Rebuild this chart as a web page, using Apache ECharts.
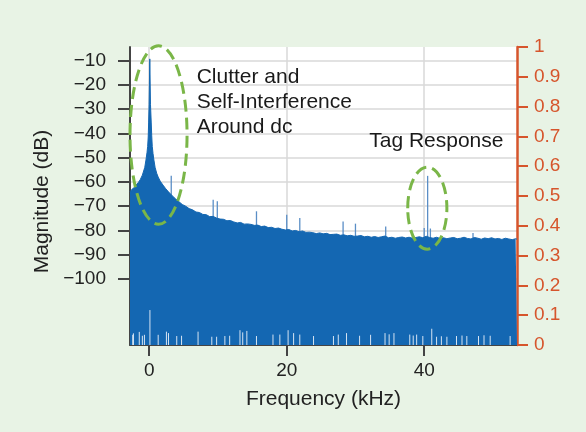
<!DOCTYPE html>
<html>
<head>
<meta charset="utf-8">
<script src="https://cdn.jsdelivr.net/npm/echarts@6/dist/echarts.min.js"></script>
<style>
  html, body { margin: 0; padding: 0; background: #e8f3e5; }
  #chart { width: 586px; height: 432px; }
</style>
</head>
<body>
<div id="chart"></div>
<script>
// Upper envelope of the measured spectrum (kHz, dB)
const envelopeFreqs = [
  -2.8, -2.5, -2.2, -1.9, -1.6, -1.3, -1.0, -0.87, -0.65, -0.48, -0.33, -0.23, -0.15, -0.09, -0.02,
  0.08, 0.18, 0.29, 0.36, 0.44, 0.55, 0.68, 0.85, 1.08, 1.3, 1.6, 2.0, 2.4, 2.8, 3.3, 3.8,
  4.3, 4.8, 5.3, 5.8, 6.3, 6.8, 7.3, 7.8, 8.3, 8.8, 9.3, 9.8, 10.3, 10.8, 11.3, 11.8,
  12.3, 12.8, 13.3, 13.8, 14.3, 14.8, 15.3, 15.8, 16.3, 16.8, 17.3, 17.8, 18.3, 18.8,
  19.3, 19.8, 20.3, 20.8, 21.3, 21.8, 22.3, 22.8, 23.3, 23.8, 24.3, 24.8, 25.3, 25.8,
  26.3, 26.8, 27.3, 27.8, 28.3, 28.8, 29.3, 29.8, 30.3, 30.8, 31.3, 31.8, 32.3, 32.8,
  33.3, 33.8, 34.3, 34.8, 35.3, 35.8, 36.3, 36.8, 37.3, 37.8, 38.3, 38.8, 39.3, 39.8,
  40.3, 40.8, 41.3, 41.8, 42.3, 42.8, 43.3, 43.8, 44.3, 44.8, 45.3, 45.8, 46.3, 46.8,
  47.3, 47.8, 48.3, 48.8, 49.3, 49.8, 50.3, 50.8, 51.3, 51.8, 52.3, 52.8, 53.3, 53.5
];
const envelopeLevels = [
  -64.0, -63.0, -62.4, -61.2, -60.3, -59.0, -57.2, -56.4, -54.0, -51.0, -48.0, -45.4, -41.5, -35.7, -28.0,
  -9.3, -28.0, -35.7, -41.0, -45.4, -48.3, -51.0, -54.0, -56.4, -58.0, -59.7, -61.3, -62.8, -64.1, -65.6, -66.9,
  -68.1, -69.3, -70.0, -71.0, -71.5, -72.4, -72.6, -73.4, -73.5, -74.3, -74.2, -74.9, -75.3, -75.4, -76.0, -75.9,
  -76.5, -76.9, -76.7, -77.4, -77.3, -77.5, -77.9, -77.8, -78.4, -78.2, -78.8, -78.7, -79.2, -79.0,
  -79.5, -79.8, -79.6, -80.2, -80.0, -80.5, -80.2, -80.8, -80.7, -80.9, -81.3, -81.0, -81.4, -81.2,
  -81.7, -81.6, -81.5, -82.0, -81.8, -82.2, -82.0, -82.4, -82.3, -82.1, -82.6, -82.4, -82.8, -82.5,
  -82.9, -82.6, -82.3, -83.0, -82.8, -83.2, -82.9, -82.7, -83.1, -82.8, -83.2, -82.9, -82.6, -83.0,
  -82.4, -82.9, -83.2, -82.8, -83.3, -83.0, -83.4, -83.1, -82.9, -83.4, -83.2, -82.8, -83.3, -83.5,
  -82.9, -83.2, -83.6, -83.1, -83.4, -83.0, -83.5, -83.3, -83.7, -83.2, -83.5, -83.8, -83.4, -83.6
];

// Narrow tones rising above the noise floor (kHz, dB)
const toneFreqs = [3.2, 9.3, 9.9, 15.6, 20.0, 21.9, 28.2, 30.0, 34.4, 40.0, 40.5, 40.9, 47.1];
const toneLevels = [-57.5, -67.3, -68.0, -72.1, -73.5, -74.9, -76.3, -77.2, -78.4, -79.0, -57.5, -79.2, -81.0];

// Deep notches reaching the bottom of the display (kHz, dB)
const dipFreqs = [
  -2.4, -2.3, -1.45, -1.0, -0.7, 0.1, 1.3, 2.5, 2.8, 4.0, 4.7, 7.1, 9.1, 9.8, 11.0, 11.7,
  13.2, 13.6, 14.2, 15.6, 18.0, 19.0, 20.2, 21.0, 21.9, 23.9, 26.8, 27.5, 28.7, 30.6, 32.2,
  34.3, 34.9, 35.6, 37.9, 38.4, 38.9, 39.8, 41.1, 41.8, 42.5, 43.3, 44.7, 45.5, 46.2, 47.9,
  48.7, 49.6, 52.5
];
const dipLevels = [
  -123.0, -122.4, -121.8, -123.4, -123.0, -112.8, -123.0, -121.7, -122.3, -123.5, -123.4, -121.7, -123.8, -123.8, -123.5, -123.4,
  -121.1, -122.0, -121.4, -123.5, -122.9, -122.9, -121.1, -122.3, -122.9, -123.5, -123.5, -122.9, -122.3, -123.4, -123.0,
  -122.3, -122.8, -122.3, -122.9, -123.3, -122.9, -123.5, -120.5, -123.8, -123.6, -123.8, -123.5, -123.3, -123.5, -123.5,
  -123.2, -123.4, -123.5
];

// Tick labels
const magTicks = [-100, -90, -80, -70, -60, -50, -40, -30, -20, -10];
const freqTicks = [0, 20, 40];

const FREQ_MIN = -2.8, FREQ_MAX = 53.5;
const MAG_MIN = -127.2, MAG_MAX = -4.4;

const BLUE = '#1467b2';
const INK = '#222222';
const ORANGE = '#d6552c';
const FONT = "'Liberation Sans', Arial, sans-serif";

function zip(xs, ys) { return xs.map((x, i) => [x, ys[i]]); }

// Vertical stems from the bottom of the plot up to each value
function stems(color, width) {
  return function (params, api) {
    const f = api.value(0);
    const base = api.coord([f, MAG_MIN]);
    const tip = api.coord([f, api.value(1)]);
    return {
      type: 'line',
      shape: { x1: base[0], y1: base[1], x2: tip[0], y2: tip[1] },
      style: { stroke: color, lineWidth: width }
    };
  };
}

const chart = echarts.init(document.getElementById('chart'), null, { renderer: 'canvas' });

chart.setOption({
  animation: false,
  backgroundColor: '#e8f3e5',
  textStyle: { fontFamily: FONT },
  grid: {
    left: 130, right: 69, top: 47, bottom: 87,
    show: true, backgroundColor: '#ffffff', borderWidth: 0
  },
  xAxis: {
    type: 'value',
    min: FREQ_MIN, max: FREQ_MAX,
    name: 'Frequency (kHz)',
    nameLocation: 'middle',
    nameGap: 44,
    nameTextStyle: { fontSize: 21, color: INK, fontFamily: FONT },
    axisLine: { show: true, onZero: false, lineStyle: { color: '#444444', width: 2 } },
    axisTick: { show: true, length: 11, customValues: freqTicks, lineStyle: { color: '#444444', width: 2 } },
    axisLabel: { customValues: freqTicks, fontSize: 19, color: INK, margin: 16, fontFamily: FONT },
    splitLine: { show: true, lineStyle: { color: '#d9d9d9', width: 1.5 } }
  },
  yAxis: [{
    type: 'value',
    position: 'left',
    min: MAG_MIN, max: MAG_MAX,
    name: 'Magnitude (dB)',
    nameLocation: 'middle',
    nameGap: 74,
    nameTextStyle: { fontSize: 21, color: INK, fontFamily: FONT, padding: [0, 11, 0, 0] },
    axisLine: { show: true, onZero: false, lineStyle: { color: '#444444', width: 2 } },
    axisTick: { show: true, length: 12, customValues: magTicks, lineStyle: { color: '#444444', width: 2 } },
    axisLabel: {
      customValues: magTicks, fontSize: 19, color: INK, margin: 24, fontFamily: FONT,
      formatter: v => String(v).replace('-', '\u2212')
    },
    splitLine: { show: true, lineStyle: { color: '#d9d9d9', width: 1.5 } }
  }, {
    type: 'value',
    position: 'right',
    min: 0, max: 1, interval: 0.1,
    axisLine: { show: true, onZero: false, lineStyle: { color: ORANGE, width: 2.5 } },
    axisTick: { show: true, length: 11, lineStyle: { color: ORANGE, width: 2 } },
    axisLabel: { fontSize: 19, color: ORANGE, margin: 17, fontFamily: FONT },
    splitLine: { show: false }
  }],
  series: [{
    // tones sit beneath the filled spectrum so only their tips show above it
    name: 'Tones',
    type: 'custom',
    renderItem: stems('#5a8ec6', 1.3),
    data: zip(toneFreqs, toneLevels),
    encode: { x: 0, y: 1 },
    z: 1,
    silent: true
  }, {
    name: 'Spectrum',
    type: 'line',
    data: zip(envelopeFreqs, envelopeLevels),
    showSymbol: false,
    symbol: 'none',
    lineStyle: { color: BLUE, width: 1 },
    areaStyle: { color: BLUE, opacity: 1, origin: 'start' },
    z: 2,
    silent: true
  }, {
    name: 'Notches',
    type: 'custom',
    renderItem: stems('rgba(235,242,250,0.9)', 1),
    data: zip(dipFreqs, dipLevels),
    encode: { x: 0, y: 1 },
    z: 4,
    silent: true
  }]
});

// Annotations placed in data space
function px(f, m) { return chart.convertToPixel({ gridIndex: 0 }, [f, m]); }
function ellipseFrom(f0, f1, m0, m1) {
  const a = px(f0, m0), b = px(f1, m1);
  return {
    type: 'ellipse',
    shape: { cx: (a[0] + b[0]) / 2, cy: (a[1] + b[1]) / 2, rx: Math.abs(b[0] - a[0]) / 2, ry: Math.abs(b[1] - a[1]) / 2 },
    style: { fill: 'none', stroke: '#7ab648', lineWidth: 3, lineDash: [12, 6] },
    z: 100,
    silent: true
  };
}
const clutterLabelAt = px(6.9, -11.6);
const tagLabelAt = px(32.0, -43.1);

chart.setOption({
  graphic: [
    ellipseFrom(-2.8, 5.5, -3.9, -77.4),
    ellipseFrom(37.6, 43.3, -53.9, -87.7),
    {
      type: 'text',
      x: clutterLabelAt[0], y: clutterLabelAt[1],
      style: {
        text: 'Clutter and\nSelf-Interference\nAround dc',
        font: '21px ' + FONT, fill: '#1a1a1a', lineHeight: 25,
        textAlign: 'left', textVerticalAlign: 'top'
      },
      z: 100
    },
    {
      type: 'text',
      x: tagLabelAt[0], y: tagLabelAt[1],
      style: {
        text: 'Tag Response',
        font: '21px ' + FONT, fill: '#1a1a1a',
        textAlign: 'left', textVerticalAlign: 'middle'
      },
      z: 100
    }
  ]
});
</script>
</body>
</html>
